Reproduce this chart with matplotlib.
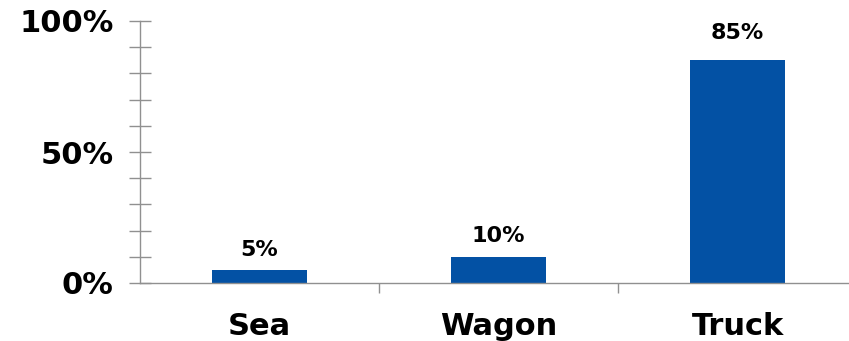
import matplotlib.pyplot as plt
from matplotlib.ticker import FixedLocator

categories = ["Sea", "Wagon", "Truck"]
shares = [5, 10, 85]
value_labels = ["5%", "10%", "85%"]
y_ticks = [0, 50, 100]
y_tick_labels = ["0%", "50%", "100%"]

plt.rcParams['font.family'] = ['DejaVu Sans']
plt.rcParams['font.weight'] = 'bold'

W, H = 849, 341
fig = plt.figure(figsize=(W / 100, H / 100), dpi=100)
ax = fig.add_axes([140 / W, 58 / H, 717 / W, 262 / H])

xs = range(len(categories))
ax.bar(xs, shares, width=0.4, color="#0351A4", zorder=1)

# labels sit a little higher above the taller bars
for x, v, lab in zip(xs, shares, value_labels):
    ax.text(x, v * 1.035 + 3.6, lab, ha='center', va='bottom',
            fontsize=16, fontweight='bold')

ax.set_xlim(-0.5, 2.5)
ax.set_ylim(0, 100)

# y axis
ax.set_yticks(y_ticks)
ax.set_yticklabels(y_tick_labels, fontsize=22, fontweight='bold')
ax.yaxis.set_minor_locator(FixedLocator(range(0, 101, 10)))
ax.tick_params(axis='y', which='both', direction='inout', length=16,
               width=1, color='#909090', pad=11)

# x axis
ax.set_xticks(list(xs))
ax.set_xticklabels(categories, fontsize=22, fontweight='bold')
ax.xaxis.set_minor_locator(FixedLocator([0.5, 1.5]))
ax.tick_params(axis='x', which='major', length=0, pad=21)
ax.tick_params(axis='x', which='minor', direction='out', length=7,
               width=1, color='#909090')

for side in ['top', 'right']:
    ax.spines[side].set_visible(False)
for side in ['left', 'bottom']:
    ax.spines[side].set_color('#909090')
    ax.spines[side].set_linewidth(1)

fig.savefig("out.png", dpi=100)
